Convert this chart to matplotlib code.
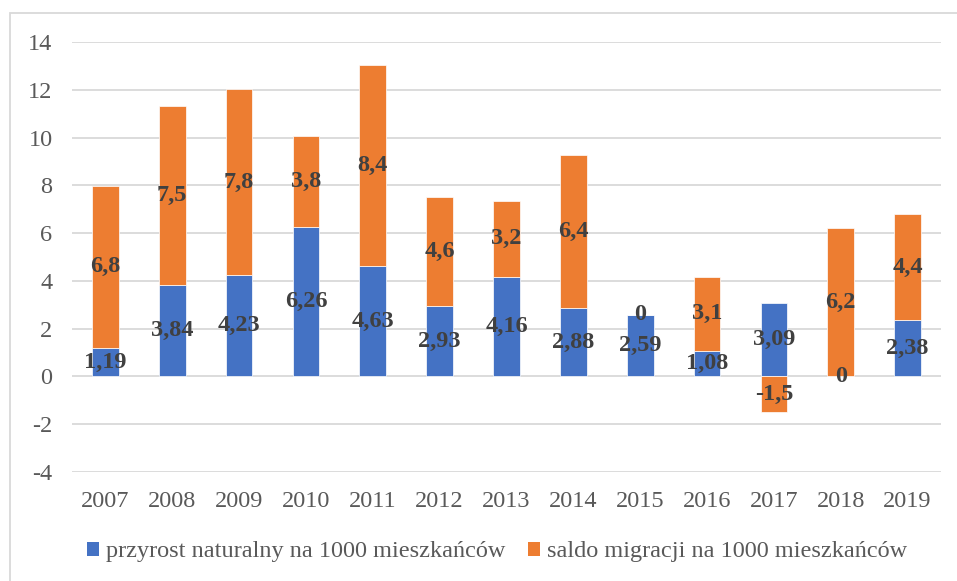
import matplotlib
matplotlib.use("Agg")
import matplotlib.pyplot as plt
from matplotlib.patches import Rectangle, Patch
import numpy as np

years = ["2007", "2008", "2009", "2010", "2011", "2012", "2013",
         "2014", "2015", "2016", "2017", "2018", "2019"]
przyrost = [1.19, 3.84, 4.23, 6.26, 4.63, 2.93, 4.16, 2.88, 2.59, 1.08, 3.09, 0, 2.38]
saldo = [6.8, 7.5, 7.8, 3.8, 8.4, 4.6, 3.2, 6.4, 0, 3.1, -1.5, 6.2, 4.4]
series_names = ["przyrost naturalny na 1000 mieszkańców",
                "saldo migracji na 1000 mieszkańców"]
yticks = [-4, -2, 0, 2, 4, 6, 8, 10, 12, 14]

BLUE = "#4472C4"
ORANGE = "#ED7D31"
TXT = "#595959"
LBL = "#404040"
GRID = "#D9D9D9"
FS = 17.5

plt.rcParams['font.family'] = ['Liberation Serif', 'DejaVu Serif']

W, H = 957, 581
fig = plt.figure(figsize=(W / 100, H / 100), dpi=100)
ax = fig.add_axes([72 / W, 1 - 472 / H, (941 - 72) / W, (472 - 42) / H])

x = np.arange(len(years))
blue = np.array(przyrost, dtype=float)
orange = np.array(saldo, dtype=float)
pos_base = np.where(blue > 0, blue, 0)
orange_bottom = np.where(orange >= 0, pos_base, np.where(blue < 0, blue, 0))

bw = 0.4
ax.bar(x, blue, width=bw, color=BLUE, edgecolor="white", linewidth=0.5, zorder=3)
ax.bar(x, orange, width=bw, bottom=orange_bottom, color=ORANGE,
       edgecolor="white", linewidth=0.5, zorder=3)


def fmt(v):
    s = f"{v:g}"
    return s.replace(".", ",")


for i in range(len(years)):
    ax.text(x[i], blue[i] / 2, fmt(blue[i]), ha="center", va="center",
            fontsize=FS, fontweight="bold", color=LBL, zorder=5)
    ax.text(x[i], orange_bottom[i] + orange[i] / 2, fmt(orange[i]), ha="center",
            va="center", fontsize=FS, fontweight="bold", color=LBL, zorder=5)

ax.set_xlim(-0.5, len(years) - 0.5)
ax.set_ylim(-4, 14)
ax.set_yticks(yticks)
ax.set_yticklabels([str(t) for t in yticks])
ax.set_xticks(x)
ax.set_xticklabels(years)
ax.tick_params(axis="both", length=0, labelsize=FS, labelcolor=TXT)
ax.tick_params(axis="y", pad=14)
ax.tick_params(axis="x", pad=14)
ax.grid(axis="y", color=GRID, linewidth=1.3, zorder=0)
ax.set_axisbelow(True)
for s in ax.spines.values():
    s.set_visible(False)

handles = [Patch(facecolor=BLUE), Patch(facecolor=ORANGE)]
fig.legend(handles, series_names, loc="center", bbox_to_anchor=(497 / W, 1 - 552 / H),
           ncol=2, frameon=False, fontsize=FS, labelcolor=TXT,
           handlelength=0.5, handleheight=0.5, handletextpad=0.3, columnspacing=0.9)

fig.patches.append(Rectangle((10 / W, -0.1), 1.2, 1 - 13 / H + 0.1,
                             transform=fig.transFigure, fill=False,
                             edgecolor=GRID, linewidth=1.3))

fig.savefig("out.png", dpi=100)
